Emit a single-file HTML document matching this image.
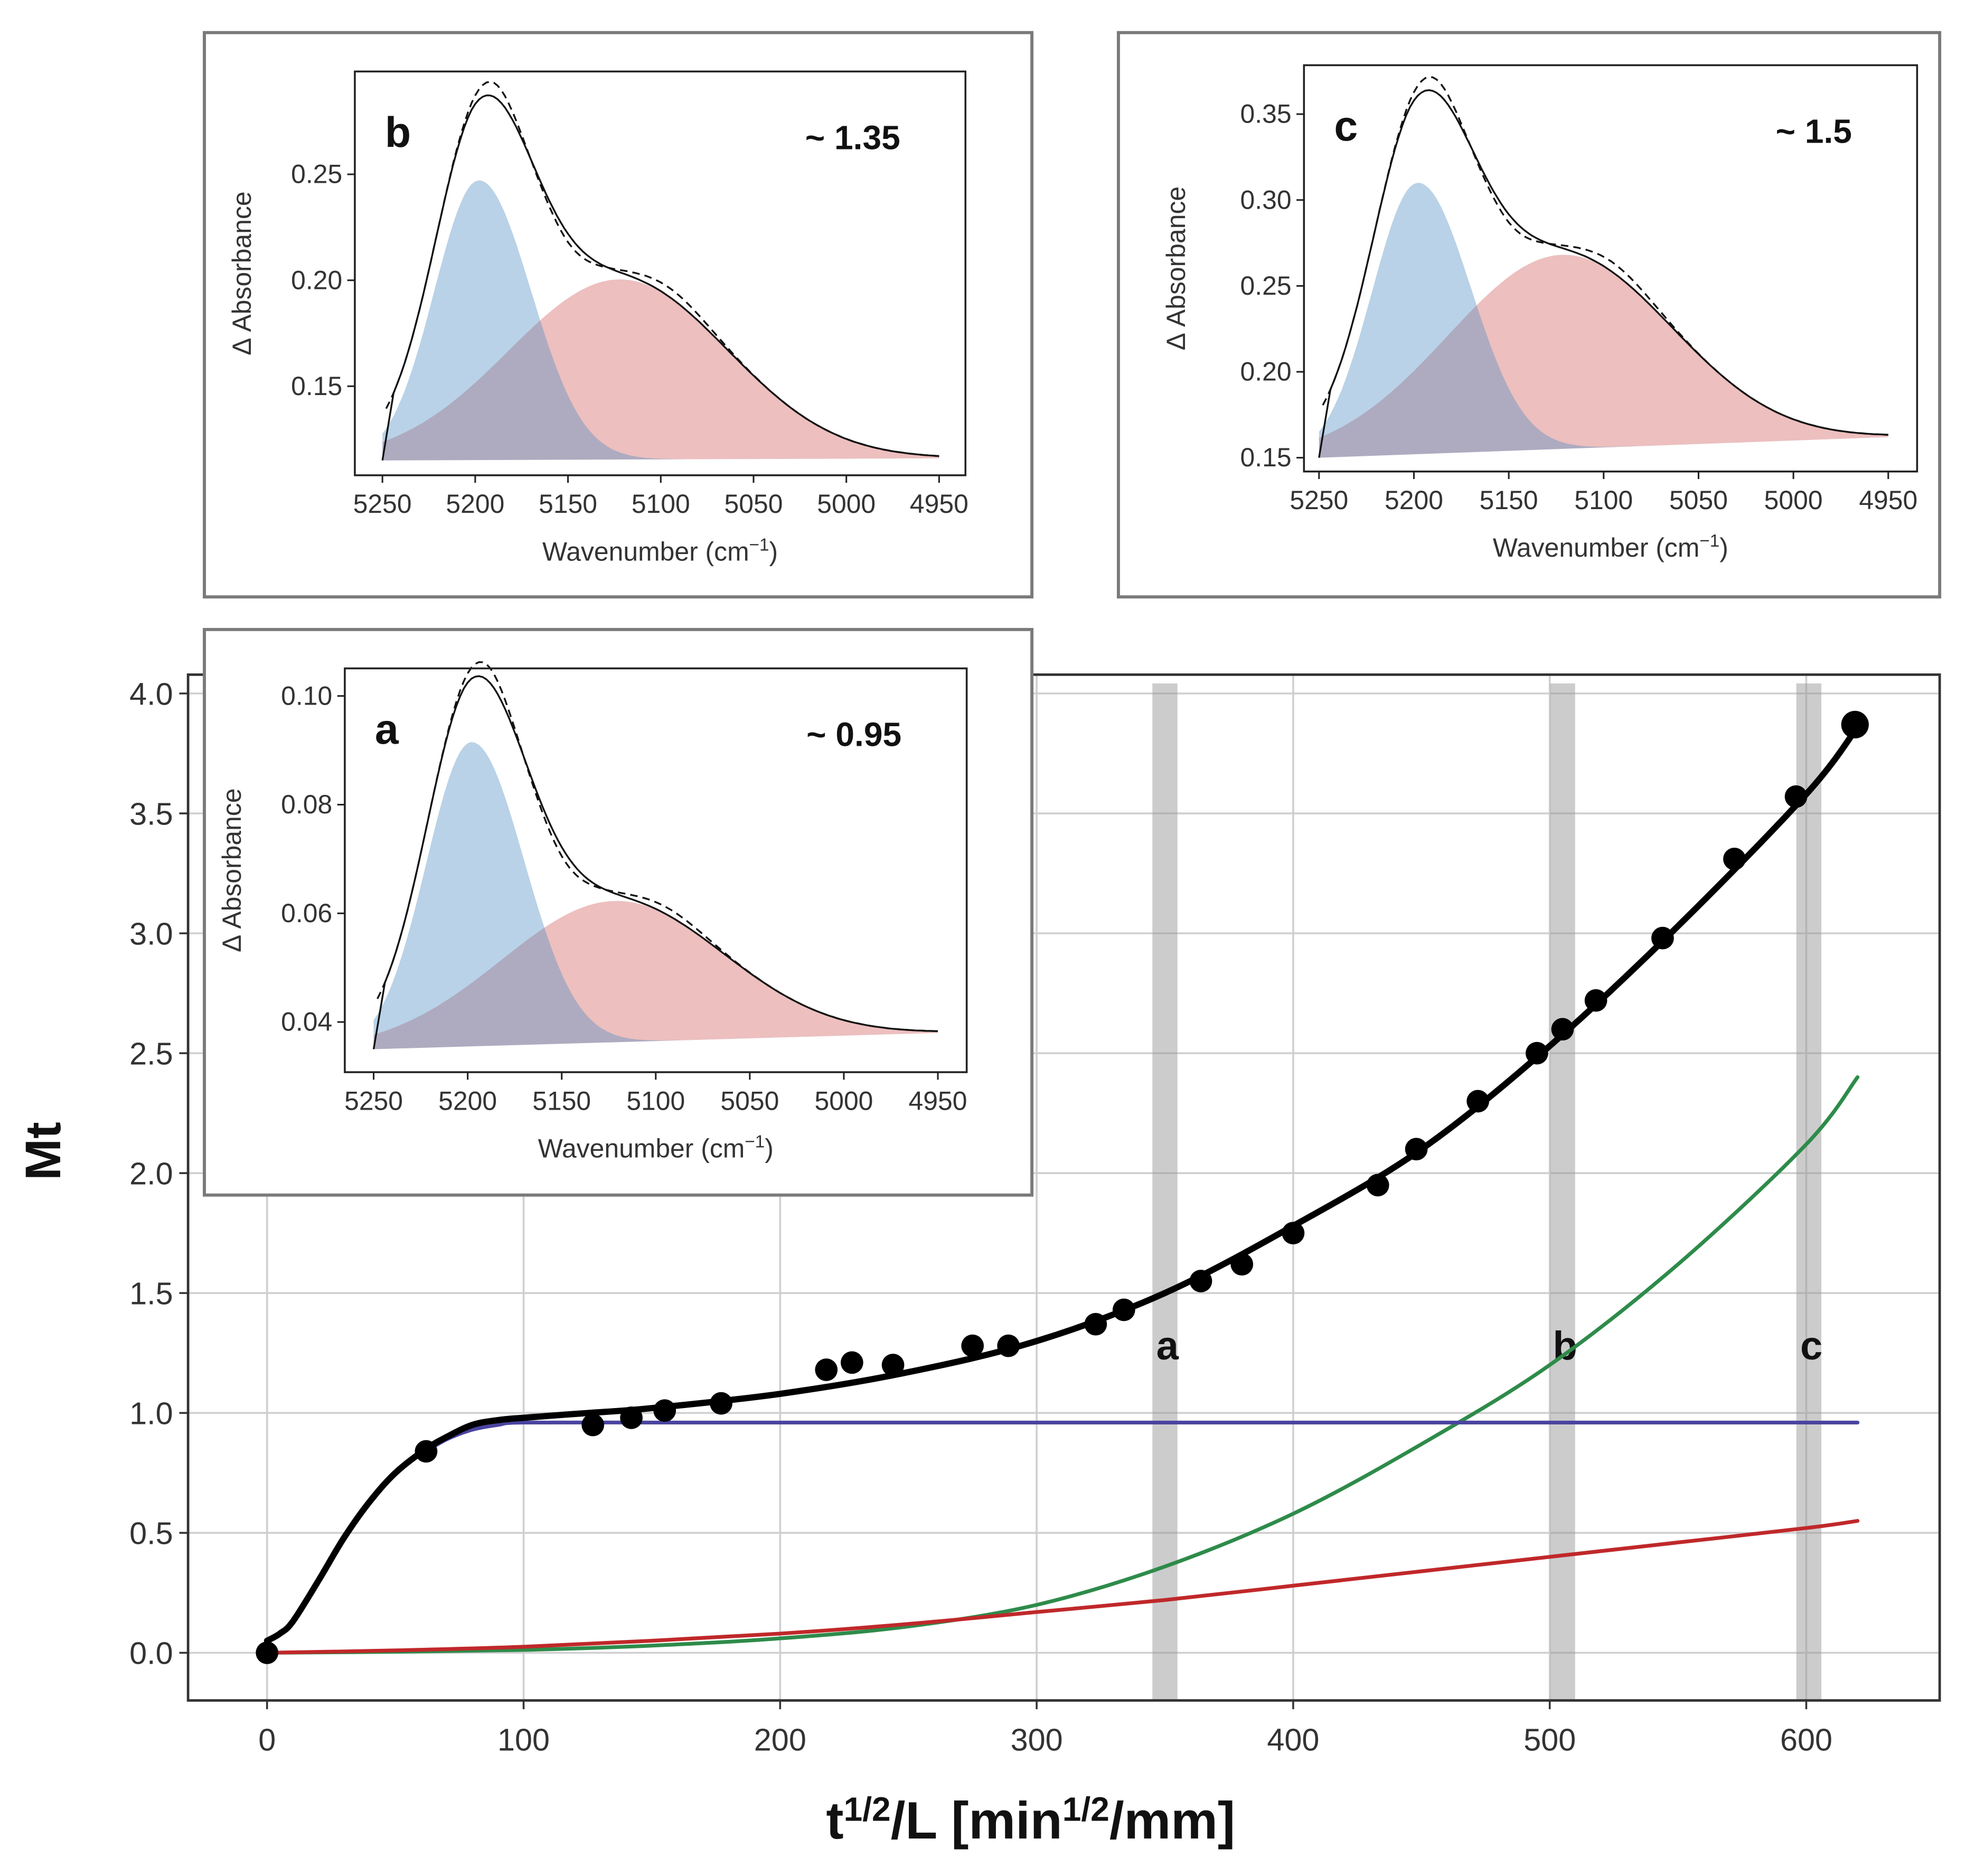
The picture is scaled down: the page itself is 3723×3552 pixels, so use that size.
<!DOCTYPE html>
<html><head><meta charset="utf-8">
<style>
html,body{margin:0;padding:0;background:#fff;}
svg{display:block;}
text{font-family:"Liberation Sans","DejaVu Sans",sans-serif;}
</style></head>
<body>
<svg id="fig" width="3723" height="3552" viewBox="0 0 1568 1496" preserveAspectRatio="none" xmlns="http://www.w3.org/2000/svg">
<rect x="0" y="0" width="1568" height="1496" fill="#fff"/>
<g id="main"></g>
<g id="insets"></g>
</svg>
<script>
// ---- main chart data ----
const xTicks=[0,100,200,300,400,500,600];
const yTicks=[0.0,0.5,1.0,1.5,2.0,2.5,3.0,3.5,4.0];
const yTickLabels=["0.0","0.5","1.0","1.5","2.0","2.5","3.0","3.5","4.0"];
const pointX=[0,62,127,142,155,177,218,228,244,275,289,323,334,364,380,400,433,448,472,495,505,518,544,572,596,619];
const pointY=[0,0.84,0.95,0.98,1.01,1.04,1.18,1.21,1.2,1.28,1.28,1.37,1.43,1.55,1.62,1.75,1.95,2.1,2.3,2.5,2.6,2.72,2.98,3.31,3.57,3.87];
const fitX=[0,5,10,20,30,40,50,62,70,80,90,100,125,150,200,250,300,350,400,450,500,550,600,620];
const fitY=[0.05,0.08,0.13,0.3,0.48,0.63,0.75,0.85,0.9,0.95,0.97,0.98,1.0,1.02,1.08,1.17,1.3,1.5,1.78,2.1,2.53,3.03,3.58,3.86];
const blueX=[62,70,80,90,100,150,200,300,400,500,620];
const blueY=[0.84,0.89,0.93,0.95,0.96,0.96,0.96,0.96,0.96,0.96,0.96];
const greenX=[0,50,100,150,200,250,300,350,400,450,500,550,600,620];
const greenY=[0,0.004,0.012,0.03,0.06,0.11,0.2,0.36,0.58,0.87,1.2,1.62,2.12,2.4];
const redX=[0,50,100,150,200,250,300,350,400,450,500,550,600,620];
const redY=[0,0.01,0.025,0.05,0.08,0.12,0.17,0.22,0.28,0.34,0.4,0.46,0.52,0.55];
const bandCenters=[350,505,601];
const bandLabels=["a","b","c"];

const NS="http://www.w3.org/2000/svg";
function mk(tag,attrs,parent){const e=document.createElementNS(NS,tag);for(const k in attrs)e.setAttribute(k,attrs[k]);parent.appendChild(e);return e;}
function smooth(pts){let d='M'+pts[0][0].toFixed(1)+','+pts[0][1].toFixed(1);
 for(let i=0;i<pts.length-1;i++){const p0=pts[Math.max(0,i-1)],p1=pts[i],p2=pts[i+1],p3=pts[Math.min(pts.length-1,i+2)];
 const c1=[p1[0]+(p2[0]-p0[0])/6,p1[1]+(p2[1]-p0[1])/6],c2=[p2[0]-(p3[0]-p1[0])/6,p2[1]-(p3[1]-p1[1])/6];
 d+=' C'+c1[0].toFixed(1)+','+c1[1].toFixed(1)+' '+c2[0].toFixed(1)+','+c2[1].toFixed(1)+' '+p2[0].toFixed(1)+','+p2[1].toFixed(1);}
 return d;}
const main=document.getElementById('main');
const X=v=>213+v*2.046;
const Y=v=>1318-v*191.25;
const L=150,R=1547,T=538,B=1356;

let t;
xTicks.forEach(v=>{const g=mk('line',{x1:X(v),x2:X(v),y1:T,y2:B,stroke:'#cfcfcf','stroke-width':1.5},main);

});
yTicks.forEach(v=>{const g=mk('line',{x1:L,x2:R,y1:Y(v),y2:Y(v),stroke:'#cfcfcf','stroke-width':1.5},main);

});
bandCenters.forEach((c,i)=>{const r=mk('rect',{x:X(c)-10,y:545,width:20,height:B-545,fill:'#9a9a9a','fill-opacity':0.5},main);


const tx=mk('text',{x:X(c)+2,y:1084,'font-size':32,'font-weight':'bold','text-anchor':'middle',fill:'#111'},main);tx.textContent=bandLabels[i];

});
const fr=mk('rect',{x:L,y:T,width:R-L,height:B-T,fill:'none',stroke:'#333','stroke-width':2},main);


xTicks.forEach(v=>{mk('line',{x1:X(v),x2:X(v),y1:B,y2:B+7,stroke:'#333','stroke-width':1.5},main);
const tx=mk('text',{x:X(v),y:B+40,'font-size':25,'text-anchor':'middle',fill:'#333'},main);tx.textContent=v;

});
yTicks.forEach((v,i)=>{mk('line',{x1:L-7,x2:L,y1:Y(v),y2:Y(v),stroke:'#333','stroke-width':1.5},main);
const tx=mk('text',{x:L-12,y:Y(v)+9,'font-size':25,'text-anchor':'end',fill:'#333'},main);tx.textContent=yTickLabels[i];

});
t=mk('text',{x:48,y:918,'font-size':40,'font-weight':'bold','text-anchor':'middle',transform:'rotate(-90 48 918)',fill:'#111'},main);t.textContent='Mt';


t=mk('text',{x:822,y:1466,'font-size':42,'font-weight':'bold','text-anchor':'middle',fill:'#111'},main);
t.innerHTML='t<tspan dy="-14" font-size="27">1/2</tspan><tspan dy="14">/L [min</tspan><tspan dy="-14" font-size="27">1/2</tspan><tspan dy="14">/mm]</tspan>';


function line(xs,ys,col,w,name){const pts=xs.map((v,i)=>[X(v),Y(ys[i])]);
const p=mk('path',{d:smooth(pts),fill:'none',stroke:col,'stroke-width':w,'stroke-linejoin':'round','stroke-linecap':'round'},main);

}
line(greenX,greenY,'#2e8b4a',3,'green-curve');
line(redX,redY,'#c0282a',3,'red-curve');
line(blueX,blueY,'#4a44a0',3,'blue-curve');
line(fitX,fitY,'#000',5,'fit-curve');
pointX.forEach((v,i)=>{const c=mk('circle',{cx:X(v),cy:Y(pointY[i]),r:i==pointX.length-1?11:9,fill:'#000'},main);

});

// ---- insets ----
const insetNames=["a","b","c"];
const insetBox=[[163,502,660,451],[163,26,660,450],[892,26,655,450]];
const insetPlot=[[275,533,496,322],[283,57,487,322],[1040,52,489,324]];
const insetX5250=[298,305,1052];
const insetX4950=[748,749,1506];
const insetYTicks=[[0.04,0.06,0.08,0.10],[0.15,0.20,0.25],[0.15,0.20,0.25,0.30,0.35]];
const insetYTickLabels=[["0.04","0.06","0.08","0.10"],["0.15","0.20","0.25"],["0.15","0.20","0.25","0.30","0.35"]];
const insetYRef=[[0.04,815,0.10,555],[0.15,308,0.25,139],[0.15,365,0.35,91]];
const insetRatio=["~ 0.95","~ 1.35","~ 1.5"];
const insetBase0=[0.035,0.115,0.150];
const insetBase1=[0.038,0.116,0.162];
const insetBlueAmp=[0.056,0.132,0.158];
const insetRedAmp=[0.026,0.085,0.113];
const blueCenter=5198, blueSigL=24, blueSigR=28, redCenter=5122, redSigL=60, redSigR=58;
const wnTicks=[5250,5200,5150,5100,5050,5000,4950];
const ins=document.getElementById('insets');

insetNames.forEach((nm,k)=>{
 const g=mk('g',{},ins);
 
 
 const [bx,by,bw,bh]=insetBox[k];
 mk('rect',{x:bx,y:by,width:bw,height:bh,fill:'#fff',stroke:'#7a7a7a','stroke-width':2.5},g);
 const [px,py,pw,ph]=insetPlot[k];
 const xa=insetX5250[k], xb=insetX4950[k];
 const XW=w=>xa+(5250-w)/300*(xb-xa);
 const [v0,p0,v1,p1]=insetYRef[k];
 const YA=v=>p0+(v-v0)*(p1-p0)/(v1-v0);
 const base=w=>insetBase0[k]+(5250-w)/300*(insetBase1[k]-insetBase0[k]);
 const blue=w=>{const s=w>blueCenter?blueSigL:blueSigR;return insetBlueAmp[k]*Math.exp(-0.5*((w-blueCenter)/s)**2);};
 const red=w=>{const s=w>redCenter?redSigL:redSigR;return insetRedAmp[k]*Math.exp(-0.5*((w-redCenter)/s)**2);};
 const ws=[];for(let w=5250;w>=4950;w-=2)ws.push(w);
 function area(f,col,name){let d='M'+XW(5250)+','+YA(base(5250));ws.forEach(w=>d+=' L'+XW(w).toFixed(1)+','+YA(base(w)+f(w)).toFixed(1));d+=' L'+XW(4950)+','+YA(base(4950))+' Z';
  const p=mk('path',{d:d,fill:col,'fill-opacity':0.4,stroke:'none'},g);
  
  }
 area(red,'#d35f5f','red-component');
 area(blue,'#4f8fc4','blue-component');
 let d='M'+XW(5250)+','+YA(base(5250));
 ws.filter(w=>w<=5244).forEach(w=>{const v=base(w)+blue(w)+red(w);d+=' L'+XW(w).toFixed(1)+','+YA(v).toFixed(1);});
 const s=mk('path',{d:d,fill:'none',stroke:'#111','stroke-width':1.4},g);
 
 
 let d2='';ws.filter(w=>w<=5248).forEach((w,i)=>{const bump=0.05*insetBlueAmp[k]*Math.exp(-0.5*((w-5190)/10)**2)-0.03*insetBlueAmp[k]*Math.exp(-0.5*((w-5150)/12)**2)+0.05*insetRedAmp[k]*Math.exp(-0.5*((w-5095)/18)**2);
  const v=base(w)+blue(w)+red(w)+bump;d2+=(i?' L':'M')+XW(w).toFixed(1)+','+YA(v).toFixed(1);});
 const s2=mk('path',{d:d2,fill:'none',stroke:'#111','stroke-width':1.4,'stroke-dasharray':'6,4'},g);
 
 
 mk('rect',{x:px,y:py,width:pw,height:ph,fill:'none',stroke:'#222','stroke-width':1.5},g);
 wnTicks.forEach(w=>{mk('line',{x1:XW(w),x2:XW(w),y1:py+ph,y2:py+ph+6,stroke:'#222','stroke-width':1.3},g);
  const tx=mk('text',{x:XW(w),y:py+ph+30,'font-size':21,'text-anchor':'middle',fill:'#333'},g);tx.textContent=w;
  
  });
 insetYTicks[k].forEach((v,i)=>{mk('line',{x1:px-6,x2:px,y1:YA(v),y2:YA(v),stroke:'#222','stroke-width':1.3},g);
  const tx=mk('text',{x:px-10,y:YA(v)+7,'font-size':21,'text-anchor':'end',fill:'#333'},g);tx.textContent=insetYTickLabels[k][i];
  
  });
 let tx=mk('text',{x:px+pw/2,y:py+ph+68,'font-size':21,'text-anchor':'middle',fill:'#333'},g);
 tx.innerHTML='Wavenumber (cm<tspan dy="-8" font-size="14">−1</tspan><tspan dy="8">)</tspan>';
 
 
 const ly=py+ph/2, lx=(k==2?945:(k==0?192:200));
 tx=mk('text',{x:lx,y:ly,'font-size':21,'text-anchor':'middle',fill:'#333',transform:'rotate(-90 '+lx+' '+ly+')'},g);tx.textContent='Δ Absorbance';
 
 
 tx=mk('text',{x:px+24,y:py+60,'font-size':34,'font-weight':'bold',fill:'#111'},g);tx.textContent=nm;
 
 
 tx=mk('text',{x:px+pw-52,y:py+62,'font-size':27,'font-weight':'bold','text-anchor':'end',fill:'#111'},g);tx.textContent=insetRatio[k];
 
 
});
</script>
</body></html>
